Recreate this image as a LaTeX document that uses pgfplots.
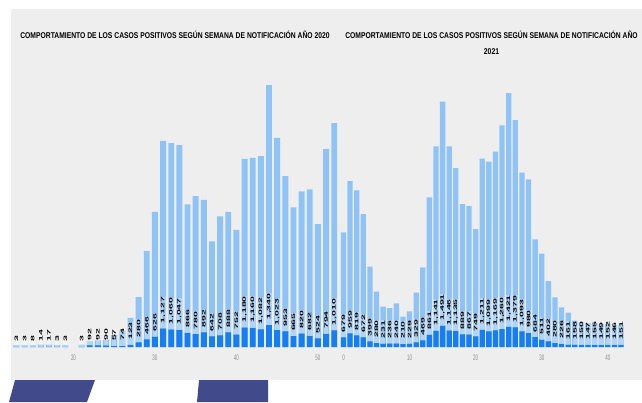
\documentclass[border=0pt]{standalone}
\usepackage{pgfplots}
\pgfplotsset{compat=1.18}
\usepackage{pgfplotstable}
\usepackage{fontspec}
\setmainfont{Liberation Sans}
\newfontfamily\titlefont[FakeStretch=0.805]{Liberation Sans}
\newfontfamily\labelfont[FakeStretch=2.1]{Liberation Sans}
\newfontfamily\tickfont[FakeStretch=0.55]{Liberation Sans}
\definecolor{bglight}{RGB}{238,238,238}
\definecolor{barlight}{RGB}{143,195,246}
\definecolor{bardark}{RGB}{22,126,244}
\definecolor{decoblue}{RGB}{65,75,140}
\definecolor{tickgray}{RGB}{140,140,140}

\pgfplotstableread{
w tot pos
13 122 3
14 122 3
15 122 8
16 140 14
17 140 17
18 122 3
19 122 3
21 150 3
22 366 92
23 400 92
24 430 90
25 730 57
26 980 74
27 1770 123
28 3050 280
29 5860 466
30 8240 626
31 12570 1127
32 12440 1060
33 12320 1047
34 8700 866
35 9210 780
36 8970 892
37 6440 642
38 7970 708
39 8240 888
40 7140 752
41 11470 1180
42 11530 1160
43 11650 1082
44 15980 1340
45 12750 1023
46 10430 953
47 8520 665
48 9490 820
49 9610 682
50 7500 524
51 12080 794
52 13660 1010
}\leftdata

\pgfplotstableread{
w tot pos
0 8030 679
1 11620 959
2 10970 819
3 9310 672
4 5620 399
5 3870 280
6 2820 231
7 2730 236
8 3060 240
9 2120 210
10 2500 229
11 3800 329
12 5580 469
13 10480 861
14 14050 1141
15 17170 1491
16 14050 1146
17 12530 1135
18 10010 889
19 9870 867
20 8260 749
21 13180 1211
22 12970 1099
23 13670 1169
24 15520 1260
25 17780 1421
26 15890 1379
27 12200 1093
28 11740 980
29 7540 684
30 6530 511
31 4620 402
32 3480 280
33 2780 226
34 2400 161
35 1840 158
36 1750 150
37 1680 147
38 1680 155
39 1610 149
40 1610 152
41 1540 146
42 1540 151
}\rightdata

\pgfplotsset{
  chartstyle/.style={
    scale only axis, height=287bp, ymin=0,
    axis line style={draw=none}, ytick=\empty, major tick length=0pt,
    tick label style={font=\tickfont\fontsize{8bp}{8bp}\selectfont, text=tickgray},
    xticklabel style={yshift=-4bp},
    /pgf/number format/assume math mode=true,
    /pgf/number format/fixed, /pgf/number format/precision=0,
    /pgf/number format/1000 sep={,},
    ybar, bar shift=0pt, clip=false,
  },
  lightbars/.style={fill=barlight, draw=none},
  darkbars/.style={fill=bardark, draw=none,
    nodes near coords={\hspace*{4.5bp}\pgfmathprintnumber{\pgfplotspointmeta}},
    point meta=y,
    every node near coord/.append style={rotate=90, anchor=west,
      font=\labelfont\bfseries\fontsize{5bp}{6bp}\selectfont, text=black,
      inner xsep=0.5bp, inner ysep=0.5bp, fill=white, fill opacity=0.3, text opacity=1}},
}

\begin{document}
\begin{tikzpicture}
\begin{scope}[x=1bp,y=1bp]
\useasboundingbox (0,0) rectangle (642,402);
\fill[bglight] (11,22) rectangle (642,393);
\fill[decoblue] (15,22) -- (95,22) -- (87,0) -- (9,0) -- cycle;
\fill[decoblue] (199,22) -- (268,22) -- (268,0) -- (197,0) -- cycle;
\node[font=\titlefont\bfseries\fontsize{8.4bp}{10bp}\selectfont, anchor=base, inner sep=0pt] at (175,364) {COMPORTAMIENTO DE LOS CASOS POSITIVOS SEGÚN SEMANA DE NOTIFICACIÓN AÑO 2020};
\node[font=\titlefont\bfseries\fontsize{8.4bp}{10bp}\selectfont, anchor=base, inner sep=0pt] at (491.5,364) {COMPORTAMIENTO DE LOS CASOS POSITIVOS SEGÚN SEMANA DE NOTIFICACIÓN AÑO};
\node[font=\titlefont\bfseries\fontsize{8.4bp}{10bp}\selectfont, anchor=base, inner sep=0pt] at (491.5,348) {2021};
\end{scope}

\begin{axis}[chartstyle, at={(10.7bp,55bp)}, anchor=south west,
  width=328.4bp, xmin=12.3, xmax=52.6, ymax=17507,
  bar width=5.9bp, xtick={20,30,40,50}]
\addplot[lightbars] table[x=w, y=tot] {\leftdata};
\addplot[darkbars] table[x=w, y=pos] {\leftdata};
\end{axis}

\begin{axis}[chartstyle, at={(339.5bp,55bp)}, anchor=south west,
  width=287.5bp, xmin=-0.6, xmax=42.9, ymax=20090,
  bar width=5.3bp, xtick={0,10,20,30,40}]
\addplot[lightbars] table[x=w, y=tot] {\rightdata};
\addplot[darkbars] table[x=w, y=pos] {\rightdata};
\end{axis}
\end{tikzpicture}
\end{document}
